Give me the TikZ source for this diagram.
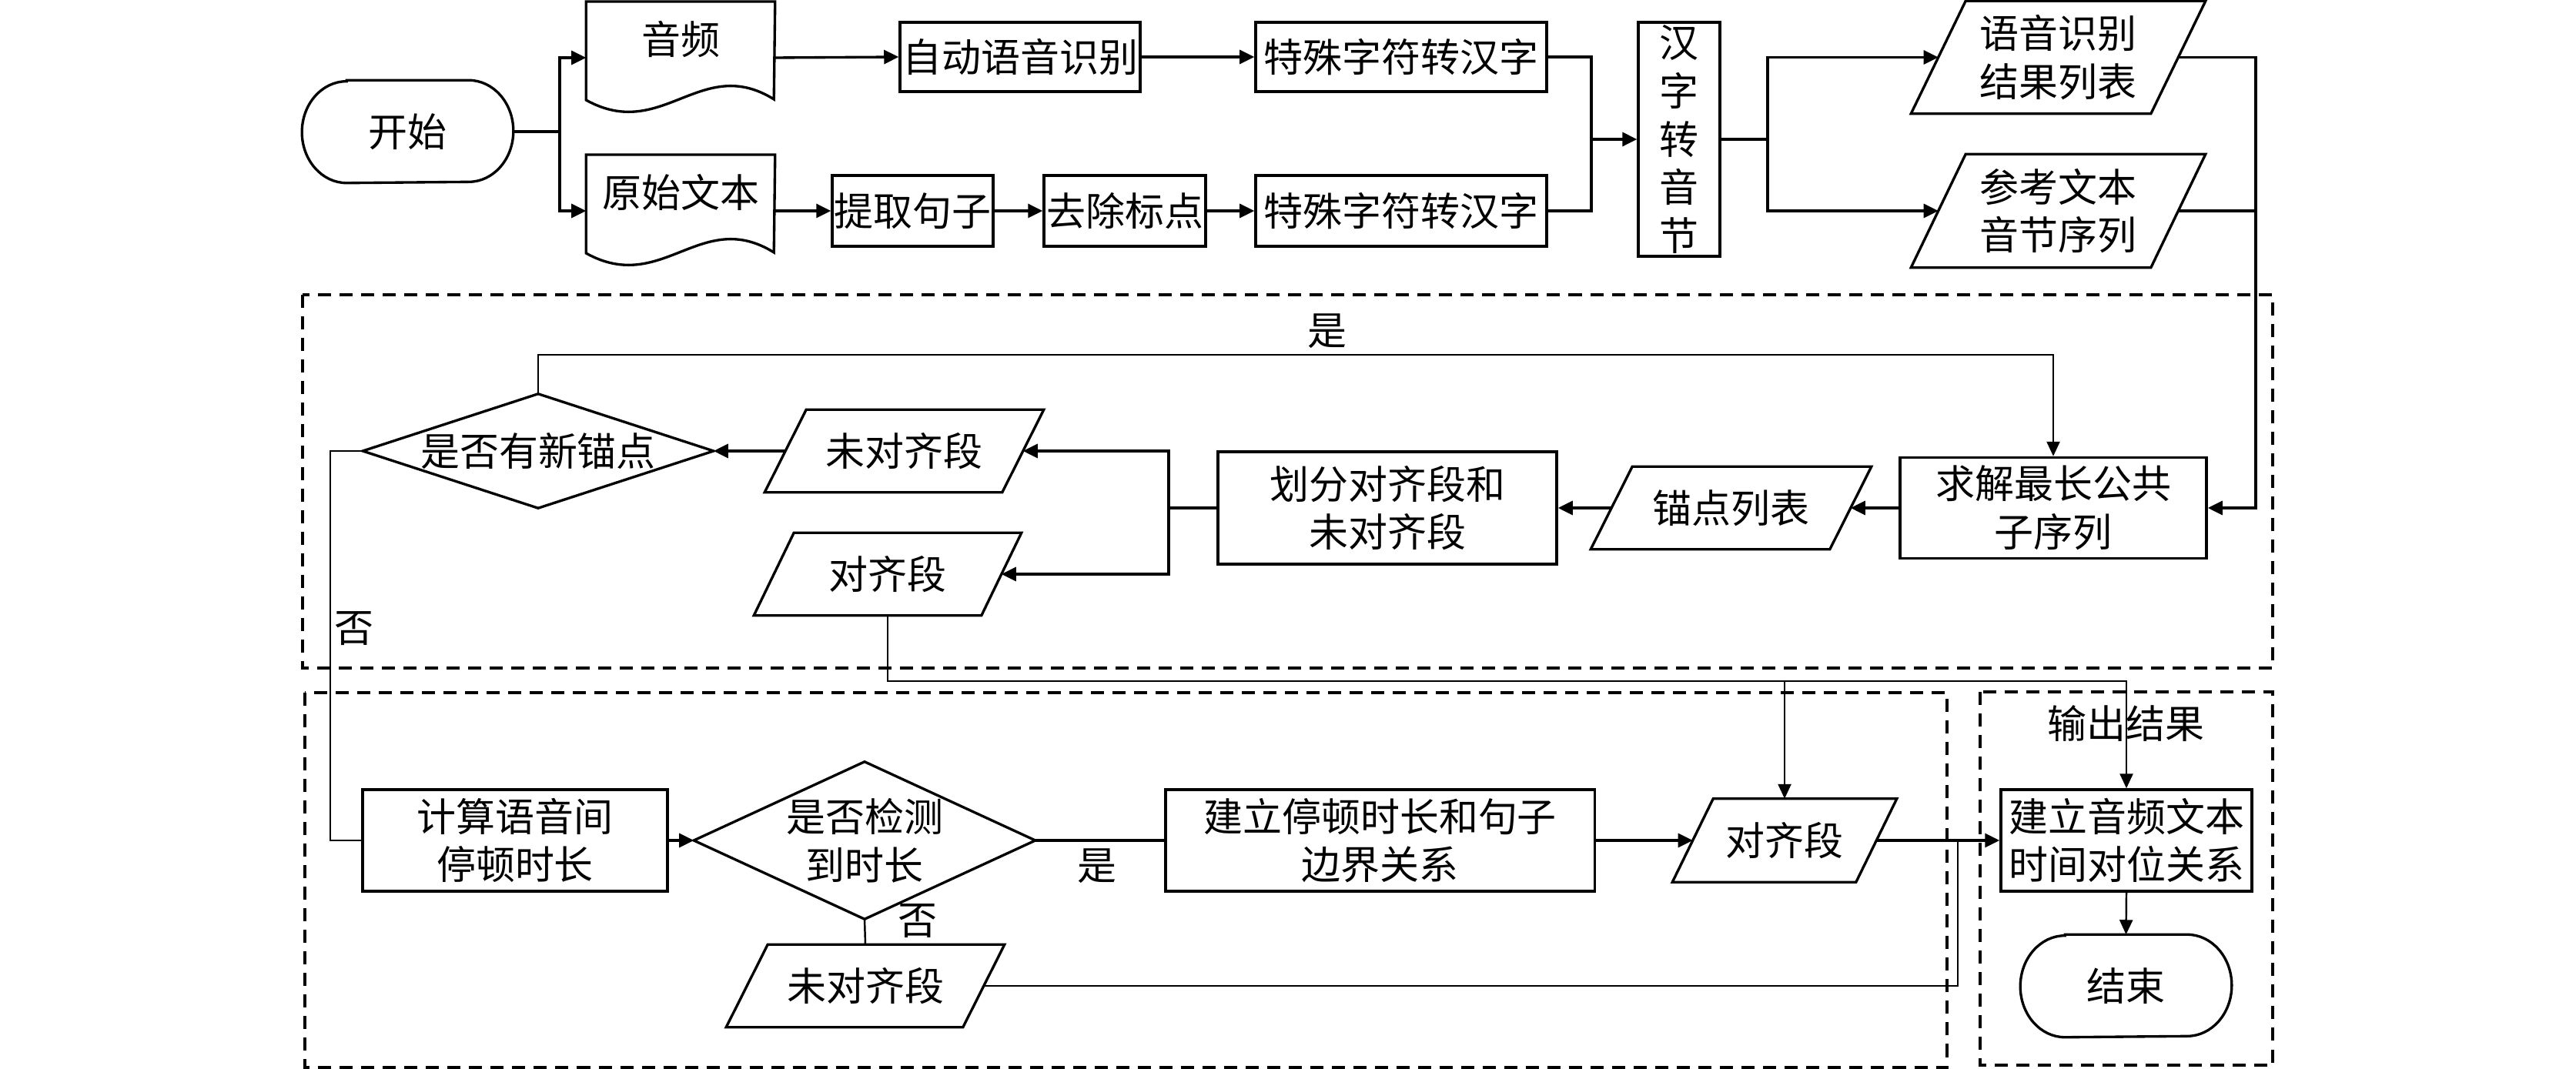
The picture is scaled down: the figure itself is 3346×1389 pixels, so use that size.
\documentclass[tikz,border=0pt]{standalone}
\usepackage{fontspec}
\setmainfont{Noto Sans CJK SC}
\usetikzlibrary{arrows.meta,calc}
\newcommand\docoutline[1]{%
  \draw[shp] (#1.north west) -- (#1.north east) -- ($(#1.north west)+(244,127)$)
    .. controls ($(#1.north west)+(149,68)$) and ($(#1.north west)+(99,183)$) .. ($(#1.north west)+(0,128)$) -- cycle;}
\newcommand\paraoutline[2]{%
  \draw[shp] (#1.south west) -- ($(#1.north west)+(#2,0)$) -- (#1.north east) -- ($(#1.south east)+(-#2,0)$) -- cycle;}
\newcommand\termoutline[1]{%
  \draw[shp] ($(#1.north west)+(58,0)$) -- ($(#1.north east)+(-58,0)$)
    arc[start angle=90,end angle=-90,x radius=0.58cm,y radius=0.66cm]
    -- ($(#1.south west)+(58,0)$)
    arc[start angle=270,end angle=90,x radius=0.58cm,y radius=0.66cm] -- cycle;}
\newcommand\diaoutline[1]{\draw[shp] (#1.north) -- (#1.east) -- (#1.south) -- (#1.west) -- cycle;}
\begin{document}
\begin{tikzpicture}[x=0.01cm, y=-0.01cm,
  every node/.style={inner sep=0pt, align=center, font=\fontsize{14.5pt}{17.8pt}\selectfont},
  sz/.style 2 args={minimum width=#1cm, minimum height=#2cm},
  boxed/.style={draw, line width=0.95pt},
  shp/.style={line width=0.95pt, line join=miter},
  ln/.style={line width=0.95pt},
  tln/.style={line width=0.7pt},
  arr/.style={ln, -{Triangle[length=0.19cm,width=0.18cm]}},
  tarr/.style={tln, -{Triangle[length=0.19cm,width=0.17cm]}},
  dashframe/.style={line width=0.95pt, dash pattern=on 0.17cm off 0.11cm},
]
\useasboundingbox (0,0) rectangle (3346,1389);

% frames
\draw[dashframe] (393,383) rectangle (2952,868);
\draw[dashframe] (396,900) rectangle (2529,1387);
\draw[dashframe] (2572,899) rectangle (2952,1384);
\node (outlbl) at (2761,940) {输出结果};

% top row
\node[sz={2.73}{1.32}] (start) at (529.5,171) {开始};
\termoutline{start}
\node[sz={2.44}{0.96}, anchor=north] (audio) at (884,2) {音频};
\docoutline{audio}
\node[sz={2.44}{0.96}, anchor=north] (orig) at (884,201) {原始文本};
\docoutline{orig}
\coordinate (audio-l) at ($(audio.north west)+(0,73)$);
\coordinate (audio-r) at ($(audio.north east)+(0,73)$);
\coordinate (orig-l) at ($(orig.north west)+(0,73)$);
\coordinate (orig-r) at ($(orig.north east)+(0,73)$);

\node[boxed, sz={3.12}{0.90}] (asr) at (1325,74) {自动语音识别};
\node[boxed, sz={3.78}{0.90}] (sp1) at (1820,74) {特殊字符转汉字};
\node[boxed, sz={2.09}{0.92}] (ext) at (1185.5,274) {提取句子};
\node[boxed, sz={2.10}{0.92}] (punc) at (1461,274) {去除标点};
\node[boxed, sz={3.78}{0.92}] (sp2) at (1820,274) {特殊字符转汉字};
\node[boxed, sz={1.06}{3.04}] (py) at (2181,181) {汉\\字\\转\\音\\节};

\node[sz={3.81}{1.45}] (asrl) at (2673.5,74.5) {语音识别\\结果列表};
\paraoutline{asrl}{71}
\node[sz={3.81}{1.46}] (refl) at (2673.5,274) {参考文本\\音节序列};
\paraoutline{refl}{71}
\coordinate (asrl-l) at ($(asrl.west)+(35.5,0)$);
\coordinate (asrl-r) at ($(asrl.east)+(-35.5,0)$);
\coordinate (refl-l) at ($(refl.west)+(35.5,0)$);
\coordinate (refl-r) at ($(refl.east)+(-35.5,0)$);

% middle
\node[boxed, sz={3.98}{1.31}] (lcs) at (2667,660) {求解最长公共\\子序列};
\node[sz={3.63}{1.06}] (anc) at (2248.5,660) {锚点列表};
\paraoutline{anc}{54}
\node[boxed, sz={4.40}{1.46}] (div) at (1802,660) {划分对齐段和\\未对齐段};
\node[sz={3.61}{1.06}] (una1) at (1174.5,586) {未对齐段};
\paraoutline{una1}{54}
\node[sz={3.46}{1.06}] (al1) at (1153,746) {对齐段};
\paraoutline{al1}{52}
\node[sz={4.54}{1.47}] (dia1) at (699,586) {是否有新锚点};
\diaoutline{dia1}
\coordinate (anc-l) at ($(anc.west)+(27,0)$);
\coordinate (anc-r) at ($(anc.east)+(-27,0)$);
\coordinate (una1-l) at ($(una1.west)+(27,0)$);
\coordinate (una1-r) at ($(una1.east)+(-27,0)$);
\coordinate (al1-r) at ($(al1.east)+(-26,0)$);

% bottom
\node[boxed, sz={3.96}{1.32}] (calc) at (669,1092) {计算语音间\\停顿时长};
\node[sz={4.42}{2.03}] (dia2) at (1123,1092) {是否检测\\到时长};
\diaoutline{dia2}
\node[boxed, sz={5.57}{1.32}] (bnd) at (1792.5,1092) {建立停顿时长和句子\\边界关系};
\node[sz={2.90}{1.07}] (al2) at (2318,1092) {对齐段};
\paraoutline{al2}{53}
\node[sz={3.60}{1.06}] (una2) at (1124,1281) {未对齐段};
\paraoutline{una2}{54}
\node[boxed, sz={3.26}{1.32}] (out) at (2762,1092) {建立音频文本\\时间对位关系};
\node[sz={2.73}{1.32}] (end) at (2761.5,1281) {结束};
\termoutline{end}
\coordinate (al2-l) at ($(al2.west)+(26.5,0)$);
\coordinate (al2-r) at ($(al2.east)+(-26.5,0)$);
\coordinate (una2-r) at ($(una2.east)+(-27,0)$);

% labels
\node (yes1) at (1724,430) {是};
\node (no1) at (460,817) {否};
\node (yes2) at (1425,1125) {是};
\node (no2) at (1192,1197) {否};

% connectors top
\coordinate (fk1) at (727,171);
\draw[ln] (start.east) -- (fk1);
\draw[arr] (fk1) |- (audio-l);
\draw[arr] (fk1) |- (orig-l);
\draw[arr] (audio-r) -- (asr.west);
\draw[arr] (asr.east) -- (sp1.west);
\draw[arr] (orig-r) -- (ext.west);
\draw[arr] (ext.east) -- (punc.west);
\draw[arr] (punc.east) -- (sp2.west);
\coordinate (mg) at (2067,181);
\draw[ln] (sp1.east) -| (mg);
\draw[ln] (sp2.east) -| (mg);
\draw[arr] (mg) -- (py.west);
\coordinate (fk2) at (2296,181);
\draw[ln] (py.east) -- (fk2);
\draw[arr] (fk2) |- (asrl-l);
\draw[arr] (fk2) |- (refl-l);
\coordinate (rc) at (2930,274);
\draw[ln] (asrl-r) -| (rc);
\draw[arr] (refl-r) -- (rc) |- (lcs.east);

% connectors middle
\draw[arr] (lcs.west) -- (anc-r);
\draw[arr] (anc-l) -- (div.east);
\coordinate (fk3) at (1518,660);
\draw[ln] (div.west) -- (fk3);
\draw[arr] (fk3) |- (una1-r);
\draw[arr] (fk3) |- (al1-r);
\draw[arr] (una1-l) -- (dia1.east);
\coordinate (lp) at (699,461);
\draw[tarr] (dia1.north) -- (lp) -| (lcs.north);
\coordinate (nl) at (429,586);
\draw[tln] (dia1.west) -- (nl) |- (calc.west);

% connectors bottom
\draw[arr] (calc.east) -- (dia2.west);
\draw[ln] (dia2.east) -- (bnd.west);
\draw[tln] (dia2.south) -- (una2.north);
\draw[arr] (bnd.east) -- (al2-l);
\draw[arr] (al2-r) -- (out.west);
\coordinate (jn) at (2543,1092);
\draw[tln] (una2-r) -| (jn);
\coordinate (ar) at (2318,885);
\draw[tln] (al1.south) |- (ar);
\draw[tarr] (ar) -- (al2.north);
\draw[tarr] (ar) -| (out.north);
\draw[tarr] (out.south) -- (end.north);
\end{tikzpicture}
\end{document}
